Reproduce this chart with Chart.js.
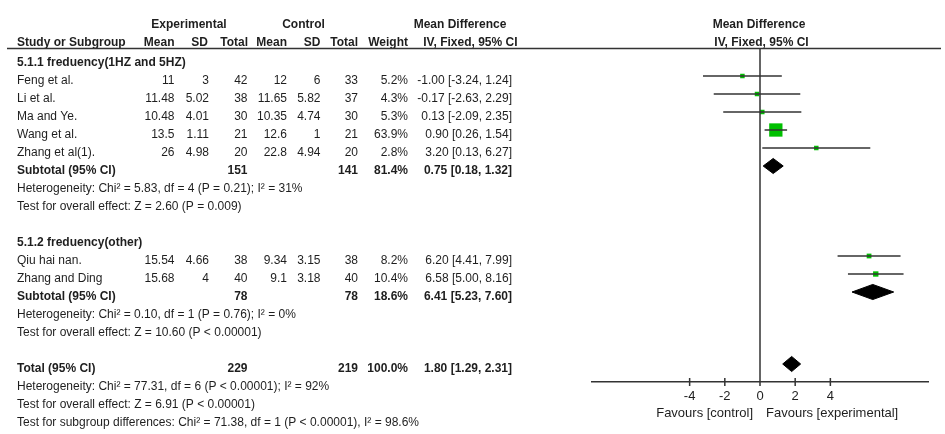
<!DOCTYPE html>
<html lang="en">
<head>
    <meta charset="UTF-8">
    <title>Forest plot - Mean Difference</title>
    <style>
        body { margin: 0; padding: 0; background: #fff; }
        #wrap { width: 945px; height: 434px; }
    </style>
</head>
<body>
    <div id="wrap"><canvas id="forest" width="945" height="434"></canvas></div>

    <script src="https://cdn.jsdelivr.net/npm/chart.js"></script>
    <script>
        // Studies (in order of appearance)
        const studies  = ['Feng et al.', 'Li et al.', 'Ma and Ye.', 'Wang et al.', 'Zhang et al(1).', 'Qiu hai nan.', 'Zhang and Ding'];
        const studyGroup = [0, 0, 0, 0, 0, 1, 1];
        const expMean  = [11, 11.48, 10.48, 13.5, 26, 15.54, 15.68];
        const expSD    = [3, 5.02, 4.01, 1.11, 4.98, 4.66, 4];
        const expN     = [42, 38, 30, 21, 20, 38, 40];
        const ctlMean  = [12, 11.65, 10.35, 12.6, 22.8, 9.34, 9.1];
        const ctlSD    = [6, 5.82, 4.74, 1, 4.94, 3.15, 3.18];
        const ctlN     = [33, 37, 30, 21, 20, 38, 40];
        const weight   = [5.2, 4.3, 5.3, 63.9, 2.8, 8.2, 10.4];
        const md       = [-1.00, -0.17, 0.13, 0.90, 3.20, 6.20, 6.58];
        const ciLow    = [-3.24, -2.63, -2.09, 0.26, 0.13, 4.41, 5.00];
        const ciHigh   = [1.24, 2.29, 2.35, 1.54, 6.27, 7.99, 8.16];

        // Subgroups + overall total
        const groupTitles = ['5.1.1 freduency(1HZ and 5HZ)', '5.1.2 freduency(other)'];
        const sumLabels = ['Subtotal (95% CI)', 'Subtotal (95% CI)', 'Total (95% CI)'];
        const sumExpN   = [151, 78, 229];
        const sumCtlN   = [141, 78, 219];
        const sumWeight = [81.4, 18.6, 100.0];
        const sumMd     = [0.75, 6.41, 1.80];
        const sumLow    = [0.18, 5.23, 1.29];
        const sumHigh   = [1.32, 7.60, 2.31];
        const sumNotes  = [
            ['Heterogeneity: Chi² = 5.83, df = 4 (P = 0.21); I² = 31%', 'Test for overall effect: Z = 2.60 (P = 0.009)'],
            ['Heterogeneity: Chi² = 0.10, df = 1 (P = 0.76); I² = 0%', 'Test for overall effect: Z = 10.60 (P < 0.00001)'],
            ['Heterogeneity: Chi² = 77.31, df = 6 (P < 0.00001); I² = 92%', 'Test for overall effect: Z = 6.91 (P < 0.00001)', 'Test for subgroup differences: Chi² = 71.38, df = 1 (P < 0.00001), I² = 98.6%']
        ];

        const xTicks = [-4, -2, 0, 2, 4];
        const leftLabel = 'Favours [control]';
        const rightLabel = 'Favours [experimental]';

        // Row layout (one row per line of the table)
        const studyRow = [], groupRow = [], sumRow = [];
        let r = 0;
        groupTitles.forEach((t, g) => {
            groupRow[g] = r++;
            studies.forEach((s, i) => { if (studyGroup[i] === g) studyRow[i] = r++; });
            sumRow[g] = r++;
            r += sumNotes[g].length + 1;
        });
        sumRow[2] = r;

        const fmt2 = v => v.toFixed(2);
        const ciText = (m, lo, hi) => `${fmt2(m)} [${fmt2(lo)}, ${fmt2(hi)}]`;

        const lineColor = '#333';
        const textColor = '#1e1e1e';
        const green = '#00c000';
        const diamondHalf = 0.42;

        // square side grows with weight, with a small minimum like RevMan
        const squareRadius = w => Math.max(4.5, 13.3 * Math.sqrt(w / 63.9)) / Math.SQRT2;

        // Datasets
        const datasets = [];
        studies.forEach((s, i) => {
            datasets.push({
                data: [{ x: ciLow[i], y: studyRow[i] }, { x: ciHigh[i], y: studyRow[i] }],
                borderColor: lineColor, borderWidth: 1.5, pointRadius: 0
            });
        });
        datasets.push({
            data: studies.map((s, i) => ({ x: md[i], y: studyRow[i] })),
            showLine: false,
            pointStyle: 'rect',
            pointRadius: weight.map(squareRadius),
            pointBackgroundColor: green,
            pointBorderWidth: 0
        });
        sumMd.forEach((m, k) => {
            const row = sumRow[k];
            datasets.push({
                data: [
                    { x: sumLow[k], y: row }, { x: m, y: row - diamondHalf },
                    { x: sumHigh[k], y: row }, { x: m, y: row + diamondHalf },
                    { x: sumLow[k], y: row }
                ],
                borderColor: '#000', borderWidth: 1, backgroundColor: '#000',
                fill: 'shape', pointRadius: 0
            });
        });

        // Table text, rules and crossing tick marks
        const tablePlugin = {
            id: 'tablePlugin',
            afterDraw(chart) {
                const ctx = chart.ctx;
                const ys = chart.scales.y, xs = chart.scales.x;
                const area = chart.chartArea;
                const rowY = row => ys.getPixelForValue(row) + 5;
                const REG = '12px "Liberation Sans", Arial, sans-serif';
                const BOLD = 'bold 12px "Liberation Sans", Arial, sans-serif';

                const put = (txt, x, y, align, bold) => {
                    ctx.font = bold ? BOLD : REG;
                    ctx.textAlign = align;
                    ctx.fillText(txt, x, y);
                };

                ctx.save();
                ctx.fillStyle = textColor;
                ctx.textBaseline = 'middle';

                // headers
                const h1 = 25, h2 = 43;
                put('Experimental', 189, h1, 'center', true);
                put('Control', 303.5, h1, 'center', true);
                put('Mean Difference', 460, h1, 'center', true);
                put('Mean Difference', 759, h1, 'center', true);
                put('Study or Subgroup', 17, h2, 'left', true);
                put('Mean', 174.5, h2, 'right', true);
                put('SD', 208, h2, 'right', true);
                put('Total', 248, h2, 'right', true);
                put('Mean', 287, h2, 'right', true);
                put('SD', 320.5, h2, 'right', true);
                put('Total', 358, h2, 'right', true);
                put('Weight', 408, h2, 'right', true);
                put('IV, Fixed, 95% CI', 517.5, h2, 'right', true);
                put('IV, Fixed, 95% CI', 761.5, h2, 'center', true);

                groupTitles.forEach((t, g) => put(t, 17, rowY(groupRow[g]), 'left', true));

                studies.forEach((s, i) => {
                    const y = rowY(studyRow[i]);
                    put(s, 17, y, 'left');
                    put(String(expMean[i]), 174.5, y, 'right');
                    put(String(expSD[i]), 209, y, 'right');
                    put(String(expN[i]), 247.5, y, 'right');
                    put(String(ctlMean[i]), 287, y, 'right');
                    put(String(ctlSD[i]), 320.5, y, 'right');
                    put(String(ctlN[i]), 358, y, 'right');
                    put(weight[i].toFixed(1) + '%', 408, y, 'right');
                    put(ciText(md[i], ciLow[i], ciHigh[i]), 512, y, 'right');
                });

                sumLabels.forEach((lab, k) => {
                    const y = rowY(sumRow[k]);
                    put(lab, 17, y, 'left', true);
                    put(String(sumExpN[k]), 247.5, y, 'right', true);
                    put(String(sumCtlN[k]), 358, y, 'right', true);
                    put(sumWeight[k].toFixed(1) + '%', 408, y, 'right', true);
                    put(ciText(sumMd[k], sumLow[k], sumHigh[k]), 512, y, 'right', true);
                    sumNotes[k].forEach((n, j) => put(n, 17, rowY(sumRow[k] + 1 + j), 'left'));
                });

                // favours labels
                ctx.font = '13px "Liberation Sans", Arial, sans-serif';
                const x0 = xs.getPixelForValue(0);
                ctx.textAlign = 'right';
                ctx.fillText(leftLabel, x0 - 7, 413);
                ctx.textAlign = 'left';
                ctx.fillText(rightLabel, x0 + 6, 413);

                // rules
                ctx.strokeStyle = lineColor;
                ctx.lineWidth = 1.5;
                ctx.beginPath();
                ctx.moveTo(7, 48.5);
                ctx.lineTo(941, 48.5);
                ctx.moveTo(x0, 48.5);
                ctx.lineTo(x0, area.bottom);
                xTicks.forEach(v => {
                    const px = xs.getPixelForValue(v);
                    ctx.moveTo(px, area.bottom - 4);
                    ctx.lineTo(px, area.bottom + 4);
                });
                ctx.stroke();
                ctx.restore();
            }
        };

        new Chart(document.getElementById('forest'), {
            type: 'line',
            data: { datasets },
            options: {
                responsive: false,
                animation: false,
                layout: { padding: { left: 592, right: 17, top: 49, bottom: 0 } },
                plugins: { legend: { display: false }, tooltip: { enabled: false } },
                scales: {
                    x: {
                        type: 'linear',
                        min: -9.55,
                        max: 9.55,
                        afterBuildTicks: s => { s.ticks = xTicks.map(v => ({ value: v })); },
                        afterFit: s => { s.height = 52; },
                        ticks: {
                            autoSkip: false, maxRotation: 0, padding: 7,
                            color: textColor,
                            font: { family: '"Liberation Sans", Arial, sans-serif', size: 13 }
                        },
                        grid: { drawOnChartArea: false, drawTicks: false },
                        border: { display: true, color: lineColor, width: 1.5 }
                    },
                    y: {
                        type: 'linear',
                        min: -0.5,
                        max: 18,
                        reverse: true,
                        display: false
                    }
                }
            },
            plugins: [tablePlugin]
        });
    </script>
</body>
</html>
